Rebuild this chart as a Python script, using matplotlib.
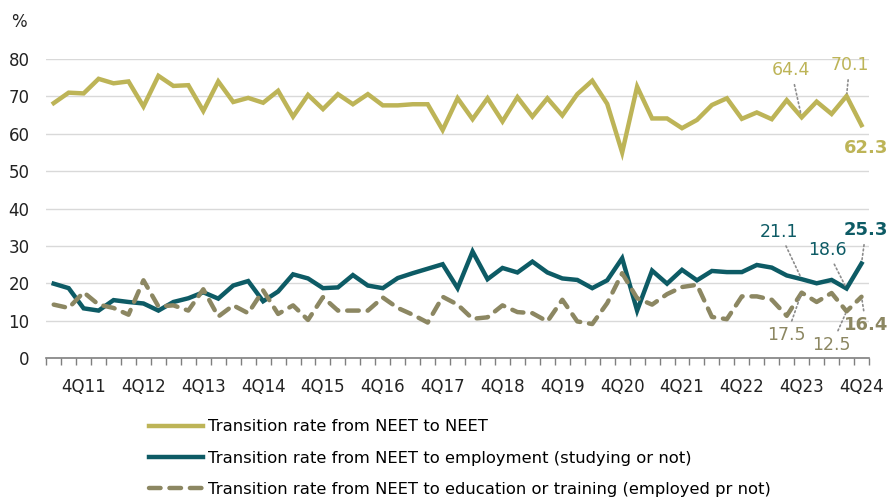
import numpy as np
import matplotlib
matplotlib.use("Agg")
import matplotlib.pyplot as plt

# quarterly transition rates, 2Q11 .. 4Q24 (%)
neet_to_neet = [68.2, 71.0, 70.8, 74.7, 73.5, 74.0, 67.3, 75.5, 72.8, 73.0,
                66.1, 74.0, 68.5, 69.6, 68.3, 71.5, 64.6, 70.4, 66.6, 70.6,
                67.9, 70.6, 67.6, 67.6, 67.9, 67.9, 61.0, 69.5, 63.9, 69.5,
                63.3, 69.8, 64.6, 69.5, 64.9, 70.6, 74.2, 68.0, 55.0, 72.6,
                64.1, 64.1, 61.5, 63.7, 67.7, 69.5, 64.0, 65.7, 63.9, 69.0,
                64.4, 68.6, 65.3, 70.1, 62.3]
neet_to_emp = [19.9, 18.7, 13.3, 12.7, 15.5, 15.0, 14.6, 12.7, 15.0, 16.0,
               17.6, 15.9, 19.4, 20.6, 15.2, 17.8, 22.4, 21.3, 18.7, 18.9,
               22.2, 19.4, 18.7, 21.4, 22.7, 23.9, 25.1, 18.7, 28.5, 21.1,
               24.1, 22.9, 25.8, 22.9, 21.3, 20.9, 18.7, 20.8, 26.7, 12.7,
               23.4, 19.9, 23.6, 20.8, 23.3, 23.0, 23.0, 24.9, 24.2, 22.1,
               21.1, 20.0, 20.9, 18.6, 25.3]
neet_to_edu = [14.3, 13.4, 17.6, 14.3, 13.4, 11.6, 20.8, 13.8, 14.1, 12.7,
               18.4, 11.1, 14.1, 12.0, 18.1, 11.8, 14.1, 10.2, 16.3, 12.7,
               12.7, 12.7, 16.2, 13.4, 11.6, 9.5, 16.4, 14.3, 10.5, 10.9,
               14.1, 12.3, 12.0, 9.8, 15.6, 9.8, 9.1, 14.7, 22.7, 16.0,
               14.3, 17.1, 19.0, 19.6, 11.0, 10.4, 16.5, 16.5, 15.6, 11.3,
               17.5, 15.0, 17.4, 12.5, 16.4]

tick_labels = ['4Q11', '4Q12', '4Q13', '4Q14', '4Q15', '4Q16', '4Q17',
               '4Q18', '4Q19', '4Q20', '4Q21', '4Q22', '4Q23', '4Q24']
first_q4 = 2  # index of 4Q11 in the series

c_neet = '#BDB457'
c_emp = '#0D5B65'
c_edu = '#8C8762'

x = np.arange(len(neet_to_neet))

fig = plt.figure(figsize=(8.89, 4.98), dpi=100)
ax = fig.add_axes([0.052, 0.281, 0.9255, 0.6005])

ax.plot(x, neet_to_neet, color=c_neet, lw=3.2, solid_joinstyle='miter',
        label='Transition rate from NEET to NEET')
ax.plot(x, neet_to_emp, color=c_emp, lw=3.2, solid_joinstyle='miter',
        label='Transition rate from NEET to employment (studying or not)')
ax.plot(x, neet_to_edu, color=c_edu, lw=3.2, linestyle=(0, (2.6, 2.0)),
        dash_capstyle='round',
        label='Transition rate from NEET to education or training (employed pr not)')

ax.set_xlim(-0.5, len(x) - 0.5)
ax.set_ylim(0, 80)
ax.set_yticks(range(0, 81, 10))
ax.yaxis.grid(True, color='#D9D9D9', lw=1)
ax.set_axisbelow(True)
for s in ['top', 'right', 'left']:
    ax.spines[s].set_visible(False)
ax.spines['bottom'].set_color('#7F7F7F')
ax.spines['bottom'].set_linewidth(1.2)
ax.tick_params(axis='y', length=0, labelsize=12, pad=12, colors='#222222')

ax.set_xticks(np.arange(first_q4, len(x), 4))
ax.set_xticklabels(tick_labels)
ax.set_xticks(np.arange(-0.5, len(x), 1), minor=True)
ax.tick_params(axis='x', which='major', length=0, labelsize=12, pad=14,
               colors='#222222')
ax.tick_params(axis='x', which='minor', length=5, color='#7F7F7F', width=1)

fig.text(0.012, 0.955, '%', fontsize=12, color='#222222', va='center')

# value labels with dotted leaders
dot = dict(arrowstyle='-', linestyle=':', color='#8C8C8C', lw=1.2)
last = len(x) - 1


def note(i, series, text, tx, ty, color, bold=False, leader=True):
    ax.annotate(text, xy=(i, series[i]), xytext=(tx, ty),
                ha='center', va='center', fontsize=13 if bold else 12.5,
                fontweight='bold' if bold else 'normal', color=color,
                arrowprops=dot if leader else None, annotation_clip=False)


note(50, neet_to_neet, '64.4', 49.3, 77.0, c_neet)
note(53, neet_to_neet, '70.1', 53.2, 78.3, c_neet)
note(last, neet_to_neet, '62.3', 54.3, 56.1, c_neet, bold=True, leader=False)
note(50, neet_to_emp, '21.1', 48.5, 33.8, c_emp)
note(53, neet_to_emp, '18.6', 51.7, 28.9, c_emp)
note(last, neet_to_emp, '25.3', 54.3, 34.2, c_emp, bold=True)
note(50, neet_to_edu, '17.5', 49.0, 6.1, c_edu)
note(53, neet_to_edu, '12.5', 52.0, 3.5, c_edu)
note(last, neet_to_edu, '16.4', 54.3, 8.8, c_edu, bold=True)

fig.legend(loc='upper left', bbox_to_anchor=(0.16, 0.171), frameon=False,
           fontsize=11.8, handlelength=3.3, handletextpad=0.3,
           labelspacing=1.0, borderaxespad=0)

fig.savefig('out.png', dpi=100)
